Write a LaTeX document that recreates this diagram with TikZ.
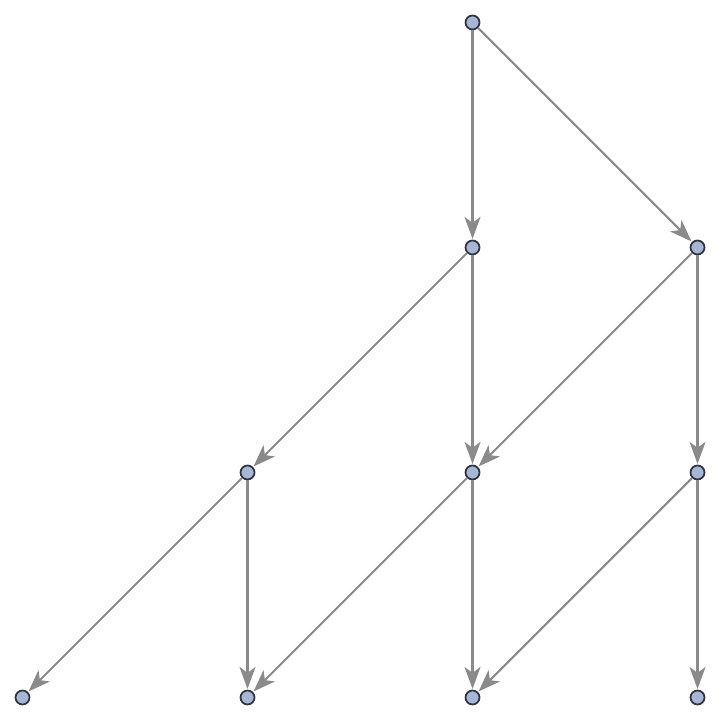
\documentclass[tikz,border=0pt]{standalone}
\usepackage{tikz}
\usetikzlibrary{arrows.meta}
\definecolor{vertexfill}{HTML}{A6B6D4}
\definecolor{vertexdraw}{HTML}{2E3440}
\definecolor{edgegray}{HTML}{8A8A8A}
\tikzset{
  vertex/.style={
    circle,
    draw=vertexdraw,
    fill=vertexfill,
    line width=0.5pt,
    inner sep=0pt,
    minimum size=0.14cm
  },
  arrow/.style={-{Stealth[length=2.2mm, width=1.6mm, inset=0.6mm]}, draw=edgegray, fill=edgegray, line width=0.6pt, shorten >=0.2pt}
}
\begin{document}
\begin{tikzpicture}
  \useasboundingbox (0,0) rectangle (7.2,7.2);
  \node[vertex] (n1) at (4.725,6.975) {};
  \node[vertex] (n2) at (4.725,4.725) {};
  \node[vertex] (n3) at (6.975,4.725) {};
  \node[vertex] (n4) at (2.475,2.475) {};
  \node[vertex] (n5) at (4.725,2.475) {};
  \node[vertex] (n6) at (6.975,2.475) {};
  \node[vertex] (n7) at (0.225,0.225) {};
  \node[vertex] (n8) at (2.475,0.225) {};
  \node[vertex] (n9) at (4.725,0.225) {};
  \node[vertex] (n10) at (6.975,0.225) {};

  \draw[arrow] (n1) -- (n2);
  \draw[arrow] (n1) -- (n3);
  \draw[arrow] (n2) -- (n4);
  \draw[arrow] (n2) -- (n5);
  \draw[arrow] (n3) -- (n5);
  \draw[arrow] (n3) -- (n6);
  \draw[arrow] (n4) -- (n7);
  \draw[arrow] (n4) -- (n8);
  \draw[arrow] (n5) -- (n8);
  \draw[arrow] (n5) -- (n9);
  \draw[arrow] (n6) -- (n9);
  \draw[arrow] (n6) -- (n10);
\end{tikzpicture}
\end{document}
